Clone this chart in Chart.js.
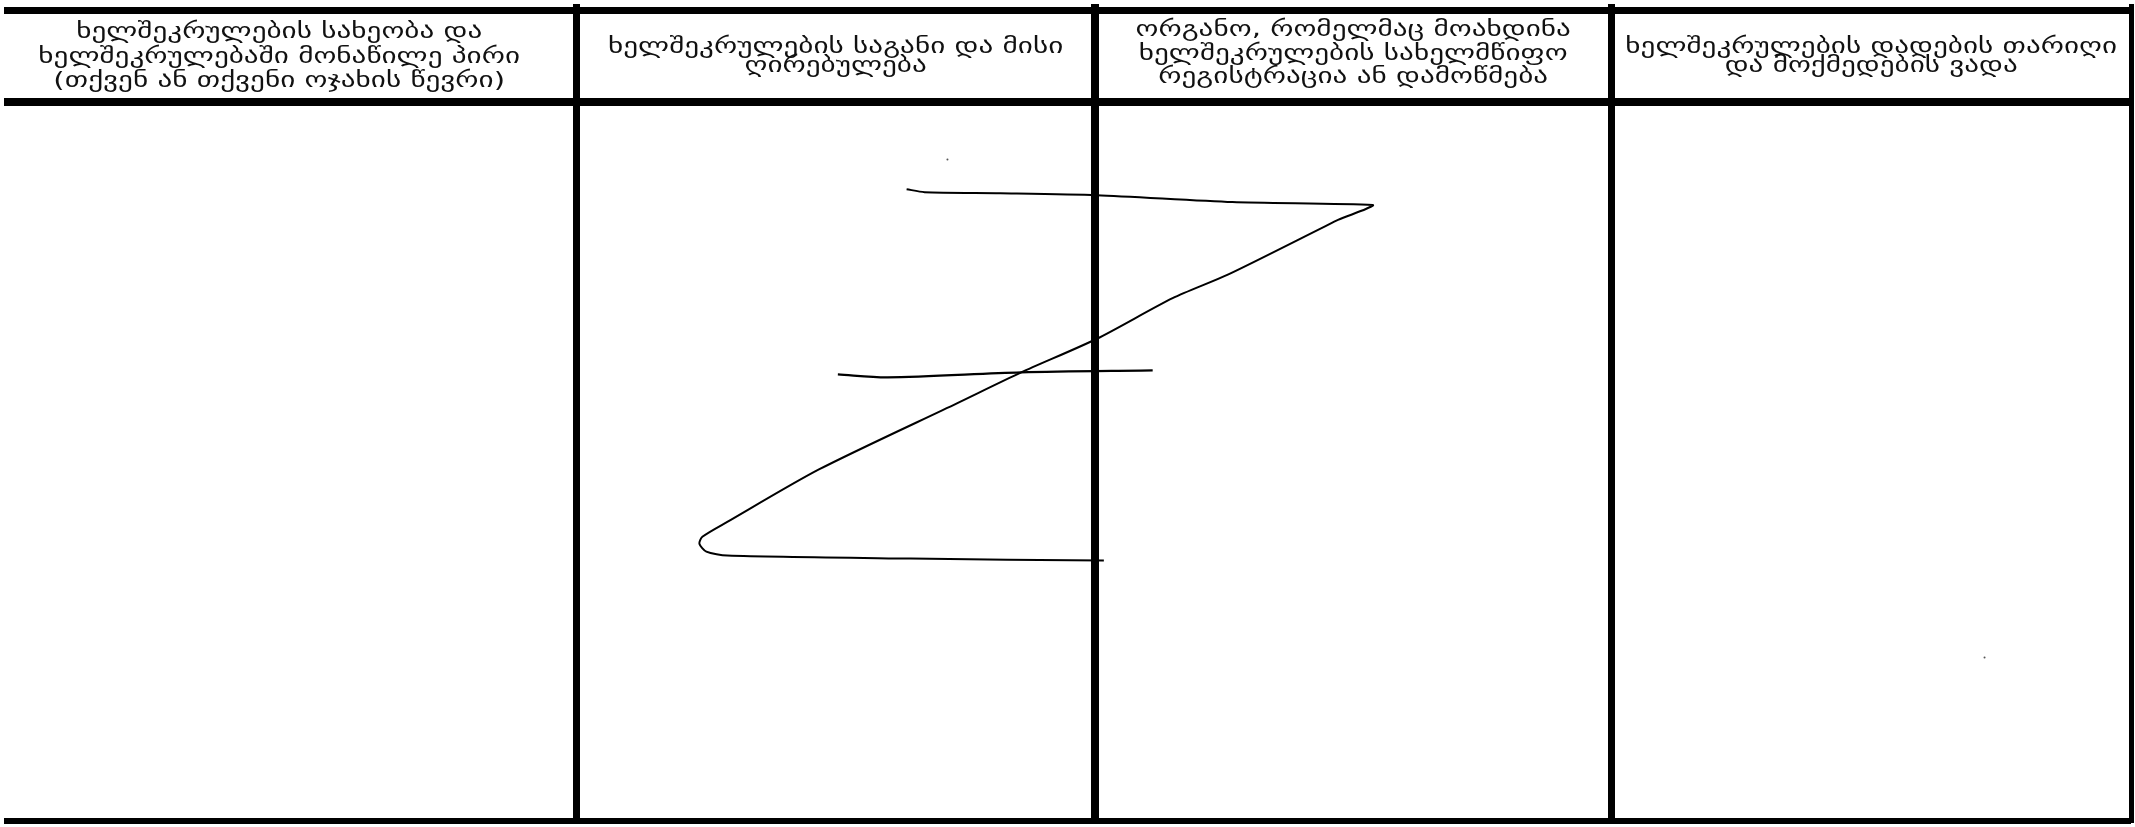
<!DOCTYPE html>
<html>
<head>
<meta charset="utf-8">
<script src="https://cdn.jsdelivr.net/npm/chart.js"></script>
<style>
  html, body { margin: 0; padding: 0; background: #fff; }
  canvas { display: block; }
</style>
</head>
<body>
<canvas id="formChart" width="2135" height="827"></canvas>
<script>
// table rules (in sheet units)
const columnEdges = [-22, 574.5, 1095, 1613.5, 2135];
const columnRuleWidths = [0, 7, 8, 7, 5];
const rowEdges = [6.5, 98.5, 825];
const rowRuleWidths = [7, 8, 6];

// header texts, one array of lines per column
const headers = [
    ['ხელშეკრულების სახეობა და', 'ხელშეკრულებაში მონაწილე პირი', '(თქვენ ან თქვენი ოჯახის წევრი)'],
    ['ხელშეკრულების საგანი და მისი', 'ღირებულება'],
    ['ორგანო, რომელმაც მოახდინა', 'ხელშეკრულების სახელმწიფო', 'რეგისტრაცია ან დამოწმება'],
    ['ხელშეკრულების დადების თარიღი', 'და მოქმედების ვადა']
];
const headerMiddles = [53.5, 53.5, 50, 53.5];
const headerLineGaps = [24.5, 19, 23.5, 19];

// signature stroke (Z shape)
const strokeX = [906, 924, 1000, 1097, 1233, 1374, 1367, 1339, 1325, 1229, 1173, 1097, 1021, 957, 818, 726, 701, 698, 705, 726, 910, 1104];
const strokeY = [187, 190, 191, 193, 200, 203, 207, 218, 225, 273, 297, 338, 372, 403, 470, 523, 538, 545, 553, 557, 560, 562];
// short crossbar
const barX = [837, 887, 1021, 1153];
const barY = [374, 377, 372, 370];
// specks
const speckX = [947, 1988];
const speckY = [157, 660];

const toPoints = (xs, ys) => xs.map((x, i) => ({ x: x, y: ys[i] }));

// the scanned lettering is wide and low, so stretch it sideways
const headerPlugin = {
    id: 'headerText',
    afterDraw(chart) {
        const ctx = chart.ctx;
        const xs = chart.scales.x;
        const ys = chart.scales.y;
        ctx.save();
        ctx.fillStyle = '#111';
        ctx.font = '21px "DejaVu Sans"';
        ctx.textAlign = 'center';
        ctx.textBaseline = 'alphabetic';
        headers.forEach((lines, c) => {
            const cx = (xs.getPixelForValue(columnEdges[c]) + xs.getPixelForValue(columnEdges[c + 1])) / 2;
            const mid = ys.getPixelForValue(headerMiddles[c]);
            const gap = headerLineGaps[c];
            lines.forEach((t, i) => {
                const y = mid + (i - (lines.length - 1) / 2) * gap + 6;
                ctx.save();
                ctx.translate(cx, y);
                ctx.scale(1.39, 1);
                ctx.fillText(t, 0, 0);
                ctx.restore();
            });
        });
        ctx.restore();
    }
};

new Chart(document.getElementById('formChart'), {
    type: 'scatter',
    data: {
        datasets: [
            {
                data: toPoints(strokeX, strokeY),
                showLine: true,
                borderColor: '#000',
                borderWidth: 2,
                tension: 0.25,
                pointRadius: 0
            },
            {
                data: toPoints(barX, barY),
                showLine: true,
                borderColor: '#000',
                borderWidth: 2.2,
                tension: 0.3,
                pointRadius: 0
            },
            {
                data: toPoints(speckX, speckY),
                showLine: false,
                pointRadius: 1,
                pointBackgroundColor: '#555',
                pointBorderWidth: 0
            }
        ]
    },
    options: {
        responsive: false,
        animation: false,
        layout: { padding: 0 },
        plugins: { legend: { display: false }, tooltip: { enabled: false } },
        scales: {
            x: {
                type: 'linear',
                min: 0,
                max: 2135,
                afterBuildTicks: axis => {
                    axis.ticks = columnEdges.filter(v => v >= 0).map(v => ({ value: v }));
                },
                ticks: { display: false },
                border: { display: false },
                grid: {
                    drawTicks: false,
                    color: '#000',
                    lineWidth: ctx => columnRuleWidths[columnEdges.indexOf(ctx.tick ? ctx.tick.value : -1)] || 0
                }
            },
            y: {
                type: 'linear',
                min: 0,
                max: 827,
                reverse: true,
                afterBuildTicks: axis => {
                    axis.ticks = rowEdges.map(v => ({ value: v }));
                },
                ticks: { display: false },
                border: { display: false },
                grid: {
                    drawTicks: false,
                    color: '#000',
                    lineWidth: ctx => rowRuleWidths[ctx.index] || 0
                }
            }
        }
    },
    plugins: [headerPlugin]
});
</script>
</body>
</html>
